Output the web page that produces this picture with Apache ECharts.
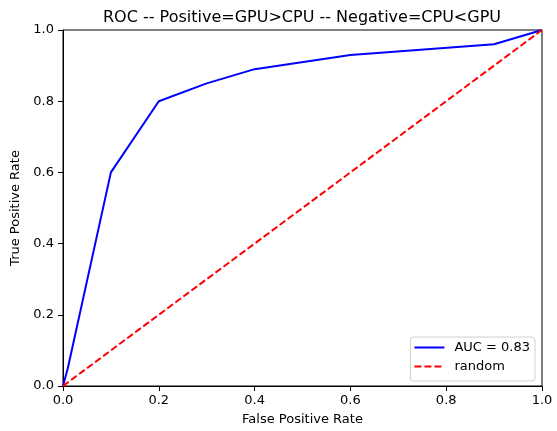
<!DOCTYPE html>
<html><head><meta charset="utf-8">
<script src="https://cdn.jsdelivr.net/npm/echarts@6/dist/echarts.min.js"></script>
<style>html,body{margin:0;padding:0;background:#fff}#c{width:557px;height:431px}</style>
</head><body><div id="c"></div>
<script>
const fpr = [0.0, 0.01, 0.1, 0.2, 0.3, 0.4, 0.6, 0.9, 1.0];
const tpr = [0.0, 0.05, 0.6, 0.8, 0.85, 0.89, 0.93, 0.96, 1.0];
const randomX = [0, 1];
const randomY = [0, 1];
const titleText = 'ROC -- Positive=GPU>CPU -- Negative=CPU<GPU';
const seriesNames = ['AUC = 0.83', 'random'];

const font = 'DejaVu Sans';
const chart = echarts.init(document.getElementById('c'), null, {renderer: 'canvas'});
chart.setOption({
  animation: false,
  backgroundColor: '#fff',
  title: {text: titleText, left: 297, top: 5, textAlign: 'center',
    textStyle: {fontFamily: font, fontSize: 16, fontWeight: 'normal', color: '#000'}},
  grid: {left: 63, right: 15, top: 30, bottom: 44, show: true, borderColor: '#000', borderWidth: 1, containLabel: false},
  xAxis: {type: 'value', min: 0, max: 1, interval: 0.2, name: 'False Positive Rate',
    nameLocation: 'middle', nameGap: 27,
    nameTextStyle: {fontFamily: font, fontSize: 13, color: '#000'},
    axisLine: {show: true, lineStyle: {color: '#000'}},
    axisTick: {show: true, inside: false, length: 5, lineStyle: {color: '#000'}},
    axisLabel: {fontFamily: font, fontSize: 13, color: '#000', margin: 8, formatter: v => v.toFixed(1)},
    splitLine: {show: false}},
  yAxis: {type: 'value', min: 0, max: 1, interval: 0.2, name: 'True Positive Rate',
    nameLocation: 'middle', nameGap: 33, nameRotate: 90,
    nameTextStyle: {fontFamily: font, fontSize: 13, color: '#000'},
    axisLine: {show: true, lineStyle: {color: '#000'}},
    axisTick: {show: true, inside: false, length: 5, lineStyle: {color: '#000'}},
    axisLabel: {fontFamily: font, fontSize: 13, color: '#000', margin: 9, formatter: v => v.toFixed(1)},
    splitLine: {show: false}},
  legend: {right: 22, bottom: 50, orient: 'vertical', itemWidth: 30, itemHeight: 14, itemGap: 6,
    backgroundColor: 'rgba(255,255,255,0.8)', borderColor: '#d0d0d0', borderWidth: 1, borderRadius: 3,
    padding: [4, 5, 8, 3],
    itemStyle: {opacity: 0, borderWidth: 0},
    textStyle: {fontFamily: font, fontSize: 13, color: '#000', padding: [0, 0, 0, 5]},
    data: seriesNames},
  series: [
    {name: seriesNames[0], type: 'line', data: fpr.map((x, i) => [x, tpr[i]]), showSymbol: false, symbol: 'none',
      lineStyle: {color: '#0000ff', width: 2}, itemStyle: {color: '#0000ff'}, clip: false},
    {name: seriesNames[1], type: 'line', data: randomX.map((x, i) => [x, randomY[i]]), showSymbol: false, symbol: 'none',
      lineStyle: {color: '#ff0000', width: 2, type: [7, 3]}, itemStyle: {color: '#ff0000'}, clip: false}
  ]
});
</script></body></html>
